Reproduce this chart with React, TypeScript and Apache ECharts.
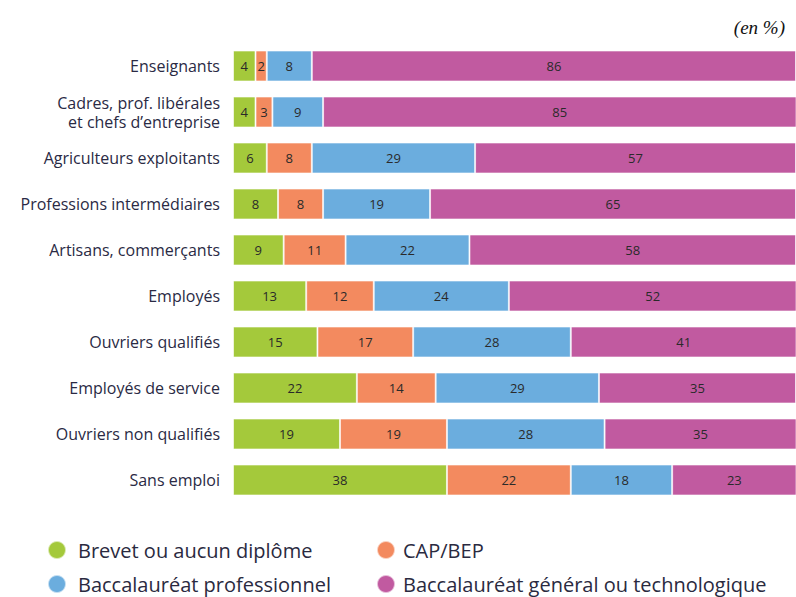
import React, { useEffect, useRef } from "react";
import * as echarts from "echarts";

const categories = [
  "Enseignants",
  "Cadres, prof. libérales\net chefs d’entreprise",
  "Agriculteurs exploitants",
  "Professions intermédiaires",
  "Artisans, commerçants",
  "Employés",
  "Ouvriers qualifiés",
  "Employés de service",
  "Ouvriers non qualifiés",
  "Sans emploi",
];

const seriesNames = [
  "Brevet ou aucun diplôme",
  "CAP/BEP",
  "Baccalauréat professionnel",
  "Baccalauréat général ou technologique",
];

const brevet = [4, 4, 6, 8, 9, 13, 15, 22, 19, 38];
const capBep = [2, 3, 8, 8, 11, 12, 17, 14, 19, 22];
const bacPro = [8, 9, 29, 19, 22, 24, 28, 29, 28, 18];
const bacGen = [86, 85, 57, 65, 58, 52, 41, 35, 35, 23];

const colors = ["#a4c93b", "#f38a5f", "#6badde", "#c15aa0"];

export default function App() {
  const ref = useRef<HTMLDivElement>(null);
  useEffect(() => {
    if (!ref.current) return;
    const chart = echarts.init(ref.current, null, { renderer: "svg" });
    const data = [brevet, capBep, bacPro, bacGen];
    const legendPos = [
      { left: 47, top: 540, pad: 7 },
      { left: 376, top: 540, pad: 3 },
      { left: 47, top: 574, pad: 7 },
      { left: 376, top: 574, pad: 3 },
    ];
    chart.setOption({
      animation: false,
      title: {
        text: "(en %)",
        right: 6,
        top: 13,
        textStyle: {
          fontFamily: "Liberation Serif",
          fontStyle: "italic",
          fontWeight: "normal",
          fontSize: 19,
          color: "#111",
        },
      },
      legend: seriesNames.map((n, i) => ({
        data: [n],
        left: legendPos[i].left,
        top: legendPos[i].top,
        padding: 0,
        icon: "circle",
        itemWidth: 18,
        itemHeight: 18,
        itemGap: 10,
        selectedMode: false,
        textStyle: {
          fontFamily: "Open Sans",
          fontSize: 20,
          lineHeight: 20,
          color: "#2a2a40",
          padding: [0, 0, 0, legendPos[i].pad],
        },
      })),
      grid: { left: 233, right: 0, top: 43, bottom: 94, containLabel: false },
      xAxis: {
        type: "value",
        min: 0,
        max: 100,
        show: false,
      },
      yAxis: {
        type: "category",
        data: categories,
        inverse: true,
        axisLine: { show: false },
        axisTick: { show: false },
        axisLabel: {
          margin: 13,
          fontFamily: "Open Sans",
          fontSize: 16,
          lineHeight: 19,
          color: "#2a2a44",
        },
      },
      series: seriesNames.map((n, i) => ({
        name: n,
        type: "bar",
        stack: "total",
        data: data[i],
        barWidth: 31,
        itemStyle: {
          color: colors[i],
          borderColor: "rgba(255,255,255,0.6)",
          borderWidth: 1,
        },
        label: {
          show: true,
          position: "inside",
          fontFamily: "Open Sans",
          fontSize: 13,
          color: "#2a2a2a",
        },
      })),
    });
    return () => chart.dispose();
  }, []);
  return (
    <div
      ref={ref}
      style={{ position: "fixed", left: 0, top: 0, width: 796, height: 597, background: "#fff" }}
    />
  );
}
